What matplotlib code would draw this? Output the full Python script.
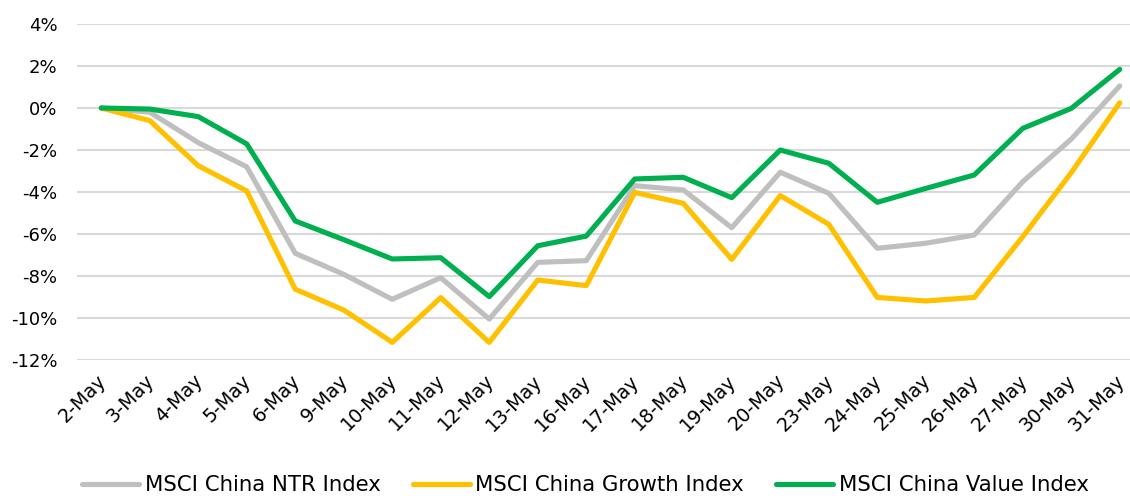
import matplotlib
matplotlib.use("Agg")
import matplotlib.pyplot as plt
import matplotlib.transforms as mtransforms
from matplotlib.ticker import FuncFormatter, MultipleLocator

dates = ["2-May", "3-May", "4-May", "5-May", "6-May", "9-May", "10-May", "11-May",
         "12-May", "13-May", "16-May", "17-May", "18-May", "19-May", "20-May",
         "23-May", "24-May", "25-May", "26-May", "27-May", "30-May", "31-May"]
ntr = [0.0, -0.2, -1.65, -2.8, -6.92, -7.92, -9.11, -8.08, -10.05, -7.35, -7.27,
       -3.7, -3.9, -5.7, -3.06, -4.06, -6.68, -6.44, -6.05, -3.51, -1.48, 1.05]
growth = [0.0, -0.6, -2.75, -3.95, -8.63, -9.62, -11.16, -9.03, -11.16, -8.19, -8.46,
          -4.02, -4.54, -7.21, -4.17, -5.54, -9.02, -9.19, -9.02, -6.13, -3.08, 0.25]
value = [0.0, -0.05, -0.41, -1.71, -5.38, -6.27, -7.19, -7.13, -8.98, -6.56, -6.1,
         -3.38, -3.3, -4.27, -2.0, -2.63, -4.49, -3.83, -3.19, -0.97, -0.02, 1.84]
series_names = ["MSCI China NTR Index", "MSCI China Growth Index", "MSCI China Value Index"]
colors = ["#BFBFBF", "#FFC000", "#00B050"]

plt.rcParams['font.family'] = ['DejaVu Sans']

W, H = 1130, 496
fig = plt.figure(figsize=(W / 100, H / 100), dpi=100)
left, right, top, bottom = 77, 1144, 24, 360
ax = fig.add_axes([left / W, 1 - bottom / H, (right - left) / W, (bottom - top) / H])

x = list(range(len(dates)))
for vals, name, c in zip([ntr, growth, value], series_names, colors):
    ax.plot(x, vals, color=c, lw=3.7, label=name, solid_capstyle='round',
            solid_joinstyle='round', clip_on=False)

ax.set_xlim(-0.5, len(dates) - 0.5)
ax.set_ylim(-12, 4)
ax.yaxis.set_major_locator(MultipleLocator(2))
ax.yaxis.set_major_formatter(FuncFormatter(lambda v, p: f"{v:.0f}%"))
ax.grid(axis='y', color='#D9D9D9', lw=1.5)
ax.set_axisbelow(True)
for s in ax.spines.values():
    s.set_visible(False)
ax.tick_params(axis='y', length=0, pad=14, labelsize=13, colors='#000000')
ax.tick_params(axis='x', length=0, pad=8, labelsize=13.8)
ax.set_xticks(x)
ax.set_xticklabels(dates, rotation=45, ha='right', va='top', rotation_mode='anchor')
shift = mtransforms.ScaledTranslation(-5 / 100, 0, fig.dpi_scale_trans)
for lab in ax.get_xticklabels():
    lab.set_transform(lab.get_transform() + shift)

fig.legend(loc='center', bbox_to_anchor=(0.518, 1 - 485 / H), ncol=3, frameon=False,
           fontsize=15.3, handlelength=2.7, columnspacing=1.5, handletextpad=0.25)

fig.savefig("out.png", dpi=100)
